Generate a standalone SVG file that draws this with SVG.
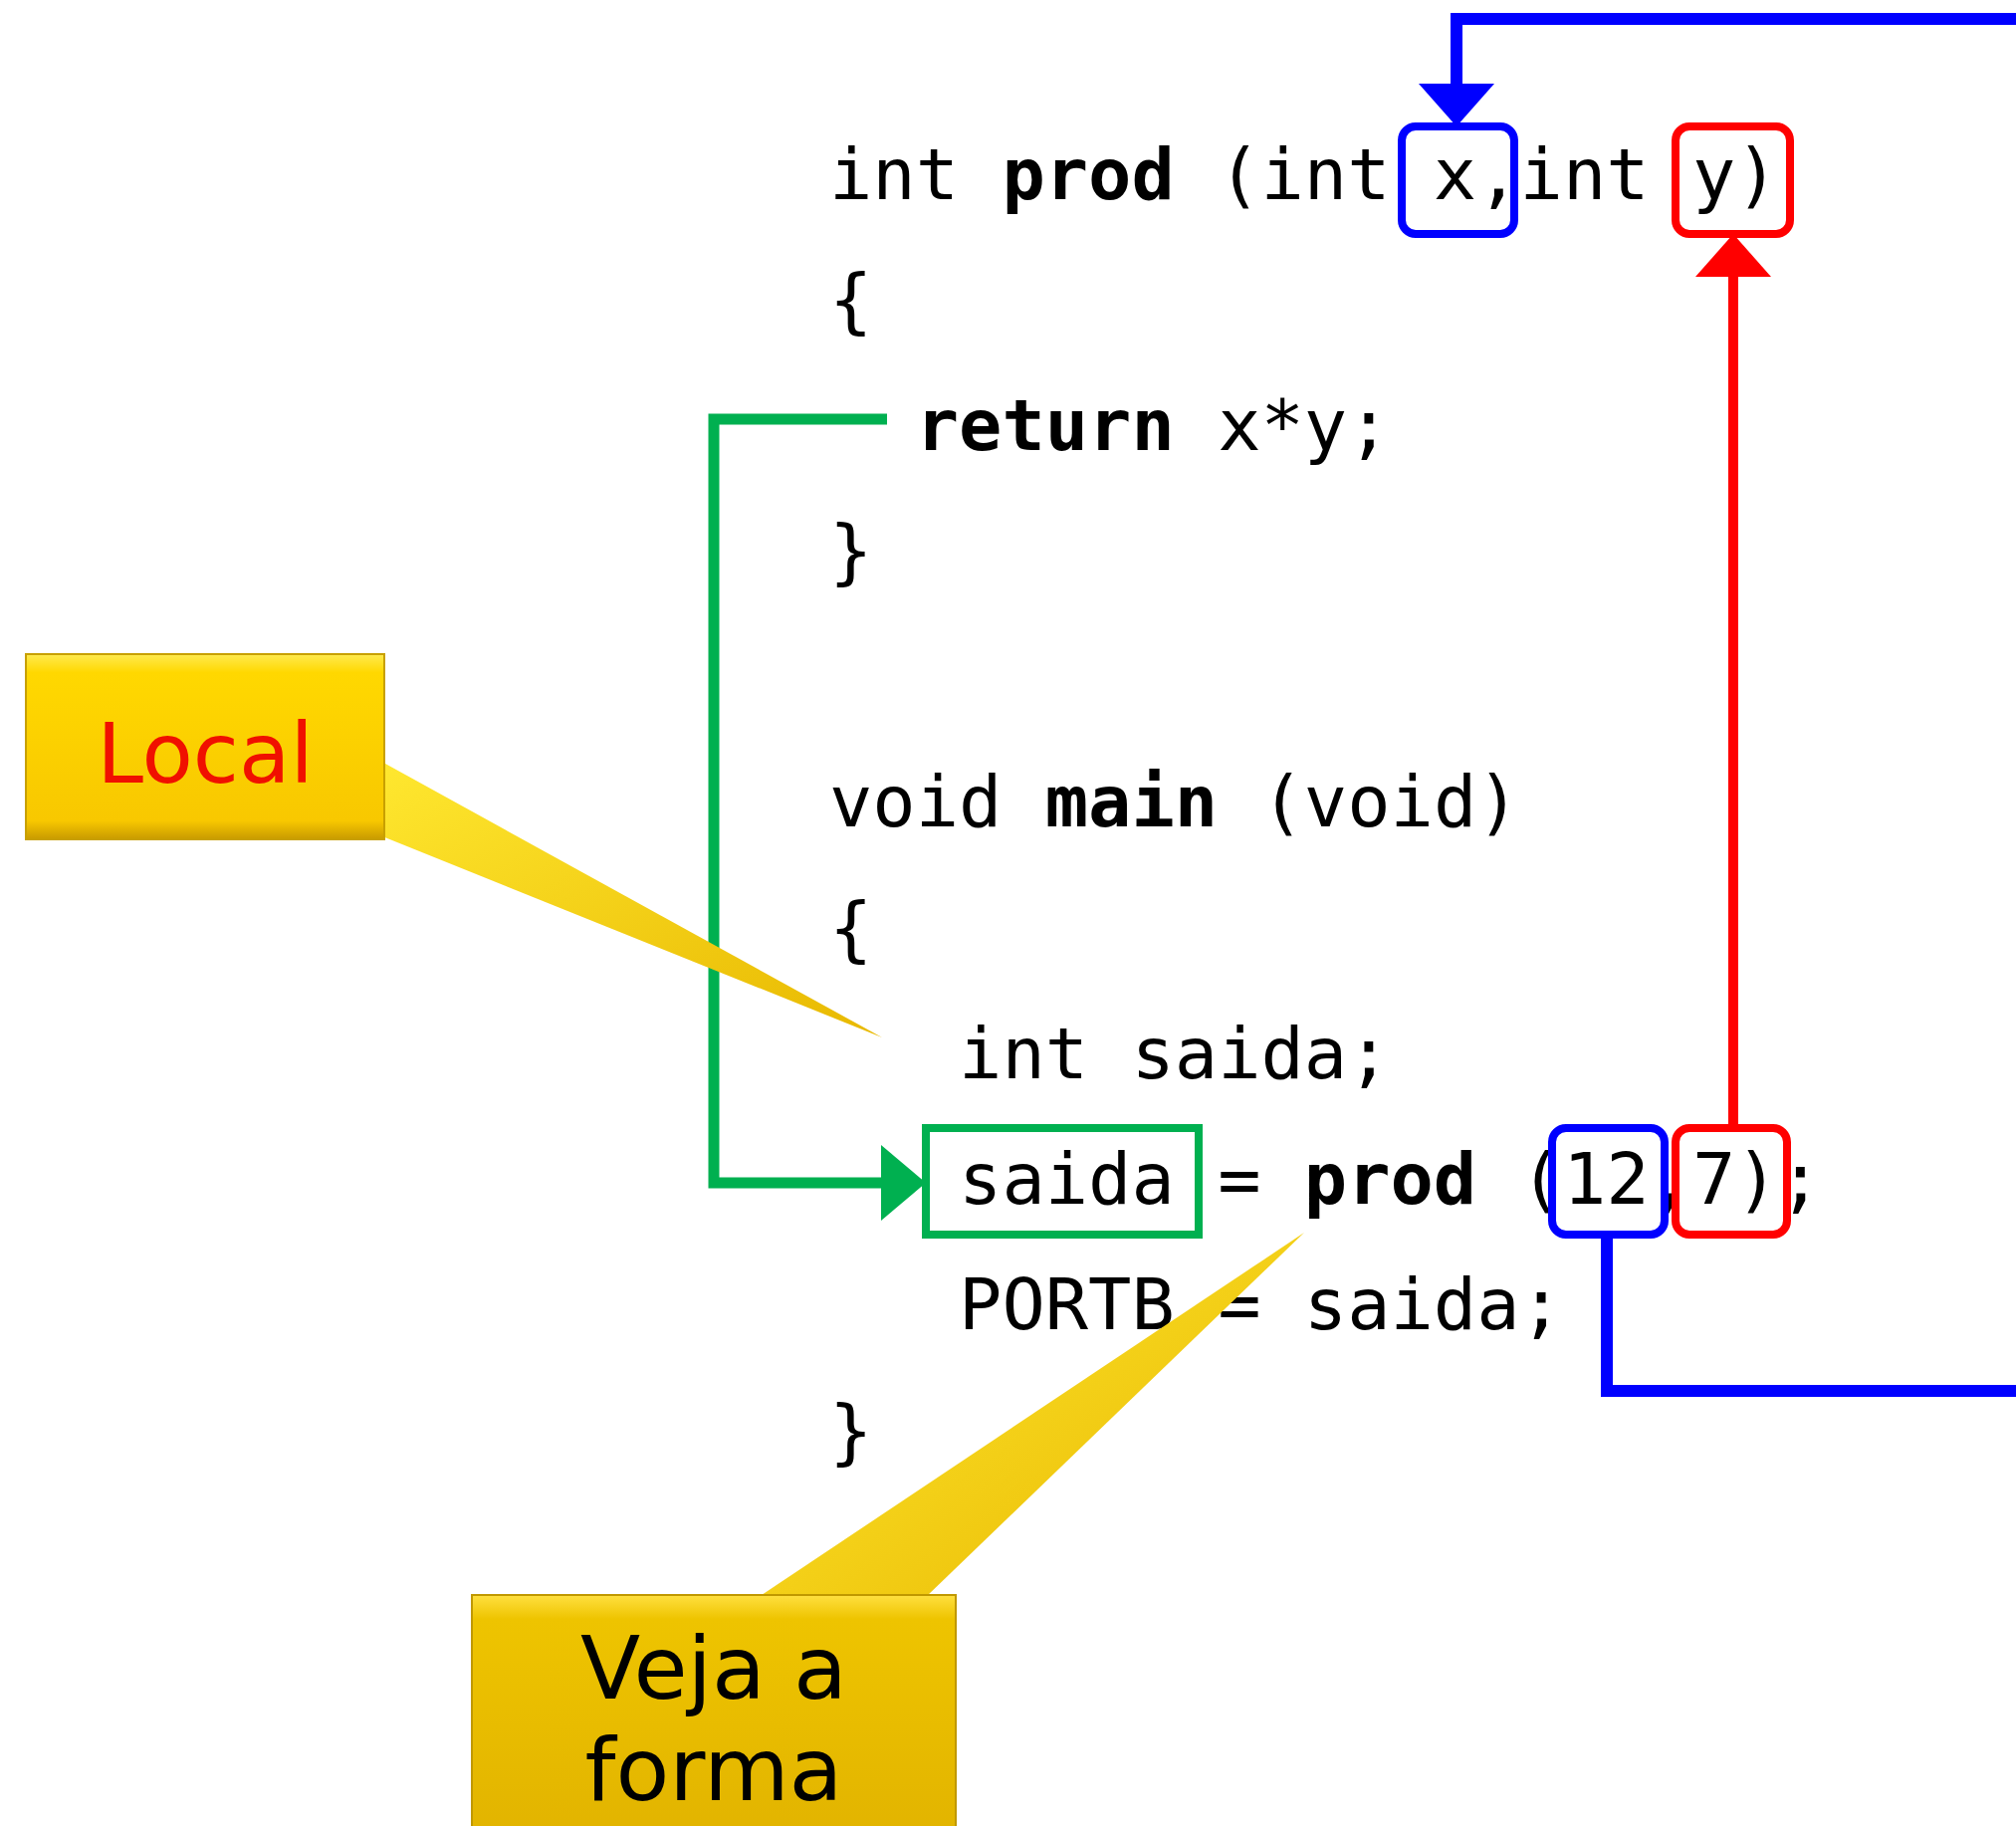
<svg xmlns="http://www.w3.org/2000/svg" width="2025" height="1834" viewBox="0 0 2025 1834">
<style>
.code{font-family:"DejaVu Sans Mono","Liberation Mono",monospace;font-size:72px;fill:#000}
.b{font-weight:bold}
.callout{font-family:"DejaVu Sans","Liberation Sans",sans-serif;text-anchor:middle}
.bbox{fill:none;stroke:#0000FF;stroke-width:8}
.rbox{fill:none;stroke:#FF0000;stroke-width:8}
.gbox{fill:none;stroke:#00B050;stroke-width:8}
</style>
<defs>
<linearGradient id="gold1" x1="0" y1="0" x2="0" y2="1">
<stop offset="0" stop-color="#FFEA50"/>
<stop offset="0.1" stop-color="#FFD800"/>
<stop offset="0.9" stop-color="#F8C800"/>
<stop offset="1" stop-color="#C89A00"/>
</linearGradient>
<linearGradient id="gold2" x1="0" y1="0" x2="0" y2="1">
<stop offset="0" stop-color="#FFE040"/>
<stop offset="0.1" stop-color="#EEC400"/>
<stop offset="1" stop-color="#E2B400"/>
</linearGradient>
<linearGradient id="tail" x1="0" y1="0" x2="1" y2="1">
<stop offset="0" stop-color="#FFE830"/>
<stop offset="1" stop-color="#E8B800"/>
</linearGradient>
</defs>

<g id="connectors">
<path d="M2030,19 H1463 V86" fill="none" stroke="#0000FF" stroke-width="12"/>
<polygon points="1425,84 1501,84 1463,127" fill="#0000FF"/>
<path d="M1614,1240 V1397 H2030" fill="none" stroke="#0000FF" stroke-width="12"/>
<path d="M1741,1133 V276" fill="none" stroke="#FF0000" stroke-width="10"/>
<polygon points="1703,278 1779,278 1741,235" fill="#FF0000"/>
<path d="M891,421 H717 V1188 H887" fill="none" stroke="#00B050" stroke-width="11"/>
<polygon points="885,1150 885,1226 930,1188" fill="#00B050"/>
</g>

<g id="code">
<text class="code" x="833" y="200" xml:space="preserve">int <tspan class="b">prod</tspan> (int x,int y)</text>
<text class="code" x="833" y="326">{</text>
<text class="code" x="833" y="452" xml:space="preserve">  <tspan class="b">return</tspan> x*y;</text>
<text class="code" x="833" y="578">}</text>
<text class="code" x="833" y="830" xml:space="preserve">void <tspan class="b">main</tspan> (void)</text>
<text class="code" x="833" y="957">{</text>
<text class="code" x="833" y="1083" xml:space="preserve">   int saida;</text>
<text class="code" x="833" y="1209" xml:space="preserve">   saida = <tspan class="b">prod</tspan> (12,7);</text>
<text class="code" x="833" y="1335" xml:space="preserve">   PORTB = saida;</text>
<text class="code" x="833" y="1462">}</text>
</g>

<g id="box-x"><rect class="bbox" x="1408" y="127" width="113" height="108" rx="14"/></g>
<g id="box-y"><rect class="rbox" x="1683" y="127" width="115" height="108" rx="14"/></g>
<g id="box-saida"><rect class="gbox" x="930" y="1133" width="274" height="107"/></g>
<g id="box-12"><rect class="bbox" x="1559" y="1133" width="113" height="107" rx="14"/></g>
<g id="box-7"><rect class="rbox" x="1683" y="1133" width="112" height="107" rx="14"/></g>

<g id="callout-local">
<polygon points="378,762 886,1042 384,840" fill="url(#tail)"/>
<rect x="26" y="657" width="360" height="186" fill="url(#gold1)" stroke="#C8A000" stroke-width="2"/>
<text class="callout" x="206" y="786" font-size="84" fill="#F01000">Local</text>
</g>

<g id="callout-veja">
<polygon points="762,1604 1310,1238 930,1604" fill="url(#tail)"/>
<rect x="474" y="1602" width="486" height="240" fill="url(#gold2)" stroke="#C09800" stroke-width="2"/>
<text class="callout" x="717" y="1706" font-size="88" fill="#000">Veja a</text>
<text class="callout" x="717" y="1808" font-size="88" fill="#000">forma</text>
</g>
</svg>
